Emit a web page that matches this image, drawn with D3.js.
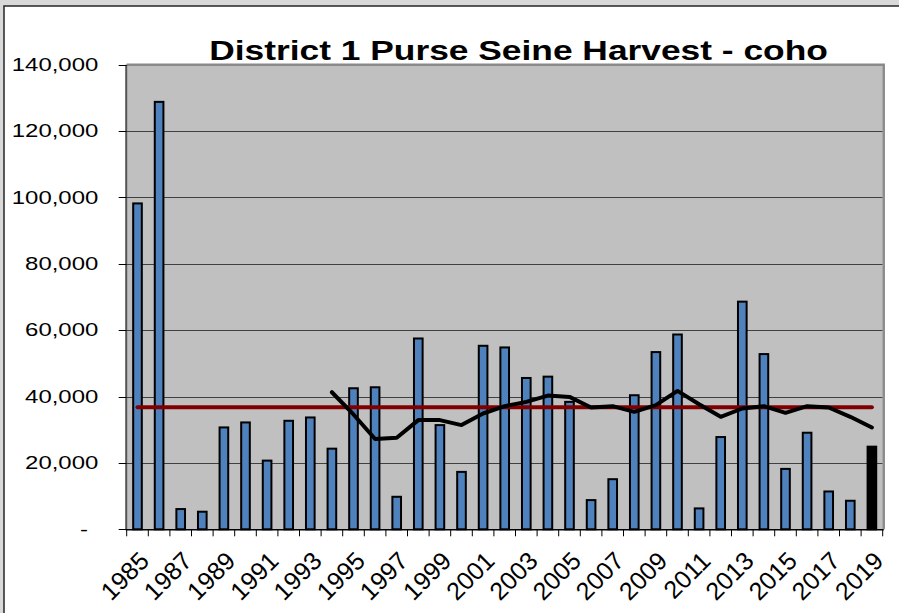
<!DOCTYPE html>
<html>
<head>
<meta charset="utf-8">
<script src="https://cdn.jsdelivr.net/npm/d3@7"></script>
<style>
html, body { margin: 0; padding: 0; background: #d9d9d9; overflow: hidden; }
svg { display: block; }
text { font-family: "Liberation Sans", Arial, sans-serif; fill: #000; }
</style>
</head>
<body>
<svg id="chart" width="899" height="613"></svg>
<script>
// harvest by year
const YEARS = [
    1985, 1986, 1987, 1988, 1989, 1990, 1991, 1992, 1993, 1994,
    1995, 1996, 1997, 1998, 1999, 2000, 2001, 2002, 2003, 2004,
    2005, 2006, 2007, 2008, 2009, 2010, 2011, 2012, 2013, 2014,
    2015, 2016, 2017, 2018, 2019,
];
const HARVEST = [
    98200, 128800, 6100, 5300, 30700, 32200, 20700, 32700, 33700, 24300,
    42500, 42800, 9800, 57500, 31400, 17300, 55300, 54800, 45600, 46000,
    38400, 8800, 15100, 40400, 53400, 58700, 6300, 27800, 68600, 52800,
    18200, 29100, 11400, 8600, 24900,
];
// 10-year running average (first point 1994)
const RUNNING_AVG = [
    null, null, null, null, null, null, null, null, null, 41300,
    34600, 27200, 27600, 32900, 32900, 31400, 34900, 37100, 38400, 40300,
    39900, 36700, 37100, 35400, 37400, 41700, 37700, 33900, 36400, 37100,
    35100, 37100, 36700, 33900, 30700,
];
const LONG_TERM_AVG = 36800;
const Y_TICKS = [0, 20000, 40000, 60000, 80000, 100000, 120000, 140000];
const TITLE = 'District 1 Purse Seine Harvest - coho';

const PLOT = { left: 126.7, right: 882.7, top: 64.7, bottom: 529.3 };

const svg = d3.select('#chart');

const x = d3.scaleBand()
    .domain(YEARS)
    .range([PLOT.left, PLOT.right])
    .paddingInner(0.6)
    .paddingOuter(0.3);
const cx = yr => x(yr) + x.bandwidth() / 2;

const y = d3.scaleLinear()
    .domain([0, 140000])
    .range([PLOT.bottom, PLOT.top]);

// chart area
svg.append('rect')
    .attr('x', 4).attr('y', 6)
    .attr('width', 1000).attr('height', 1000)
    .attr('fill', '#fff')
    .attr('stroke', '#262626')
    .attr('stroke-width', 1.5);

svg.append('rect')
    .attr('x', PLOT.left).attr('y', PLOT.top)
    .attr('width', PLOT.right - PLOT.left)
    .attr('height', PLOT.bottom - PLOT.top)
    .attr('fill', '#c0c0c0');

svg.append('g')
    .selectAll('line')
    .data(Y_TICKS.slice(1, -1))
    .join('line')
    .attr('x1', PLOT.left).attr('x2', PLOT.right)
    .attr('y1', d => Math.round(y(d)) + 0.5)
    .attr('y2', d => Math.round(y(d)) + 0.5)
    .attr('stroke', '#404040');

// plot frame (top + right)
svg.append('path')
    .attr('d', `M${PLOT.left},${PLOT.top} H${PLOT.right + 1} V${PLOT.bottom}`)
    .attr('fill', 'none')
    .attr('stroke', '#8a8a8a')
    .attr('stroke-width', 2.5);

svg.append('g')
    .selectAll('rect')
    .data(YEARS)
    .join('rect')
    .attr('x', d => x(d))
    .attr('y', (d, i) => y(HARVEST[i]))
    .attr('width', x.bandwidth())
    .attr('height', (d, i) => y(0) - y(HARVEST[i]))
    .attr('fill', d => d === 2019 ? '#000' : '#4f81bd')
    .attr('stroke', '#000')
    .attr('stroke-width', 2);

svg.append('line')
    .attr('x1', cx(YEARS[0]))
    .attr('x2', cx(YEARS[YEARS.length - 1]))
    .attr('y1', y(LONG_TERM_AVG))
    .attr('y2', y(LONG_TERM_AVG))
    .attr('stroke', '#800000')
    .attr('stroke-width', 4)
    .attr('stroke-linecap', 'round');

const runLine = d3.line()
    .defined(d => d[1] !== null)
    .x(d => cx(d[0]))
    .y(d => y(d[1]));

svg.append('path')
    .datum(YEARS.map((yr, i) => [yr, RUNNING_AVG[i]]))
    .attr('d', runLine)
    .attr('fill', 'none')
    .attr('stroke', '#000')
    .attr('stroke-width', 4)
    .attr('stroke-linejoin', 'round')
    .attr('stroke-linecap', 'round');

// y axis
svg.append('line')
    .attr('x1', PLOT.left - 0.5).attr('x2', PLOT.left - 0.5)
    .attr('y1', PLOT.top).attr('y2', PLOT.bottom)
    .attr('stroke', '#555')
    .attr('stroke-width', 2);

svg.append('g')
    .selectAll('line')
    .data(Y_TICKS)
    .join('line')
    .attr('x1', PLOT.left - 8).attr('x2', PLOT.left)
    .attr('y1', d => Math.round(y(d)) + 0.5)
    .attr('y2', d => Math.round(y(d)) + 0.5)
    .attr('stroke', '#000');

const yLabels = svg.append('g')
    .selectAll('text')
    .data(Y_TICKS)
    .join('text')
    .attr('text-anchor', 'end')
    .attr('dy', '0.35em')
    .style('font-size', '18px')
    .text(d => d === 0 ? '-' : d3.format(',')(d));

const widest = yLabels.filter(d => d === 140000).node().getComputedTextLength();
const ySx = 86.6 / widest;
yLabels.attr('transform', d =>
    `translate(${d === 0 ? 88 : 98.3},${y(d)}) scale(${ySx},1)`);

// x axis
svg.append('line')
    .attr('x1', PLOT.left - 1).attr('x2', PLOT.right + 1)
    .attr('y1', PLOT.bottom + 0.5).attr('y2', PLOT.bottom + 0.5)
    .attr('stroke', '#000')
    .attr('stroke-width', 1.5);

svg.append('g')
    .selectAll('line')
    .data([...YEARS, null])
    .join('line')
    .attr('x1', d => d === null ? PLOT.right : cx(d) - x.step() / 2)
    .attr('x2', d => d === null ? PLOT.right : cx(d) - x.step() / 2)
    .attr('y1', PLOT.bottom)
    .attr('y2', PLOT.bottom + 7)
    .attr('stroke', '#000');

svg.append('g')
    .selectAll('text')
    .data(YEARS.filter((d, i) => i % 2 === 0))
    .join('text')
    .attr('text-anchor', 'end')
    .style('font-size', '25px')
    .attr('transform', d => `translate(${cx(d) + 13},${PLOT.bottom + 33}) rotate(-45)`)
    .text(d => d);

const title = svg.append('text')
    .attr('text-anchor', 'middle')
    .style('font-size', '28px')
    .style('font-weight', 'bold')
    .text(TITLE);
const tSx = 619 / title.node().getComputedTextLength();
title.attr('transform', `translate(518.5,59.5) scale(${tSx},1)`);
</script>
</body>
</html>
